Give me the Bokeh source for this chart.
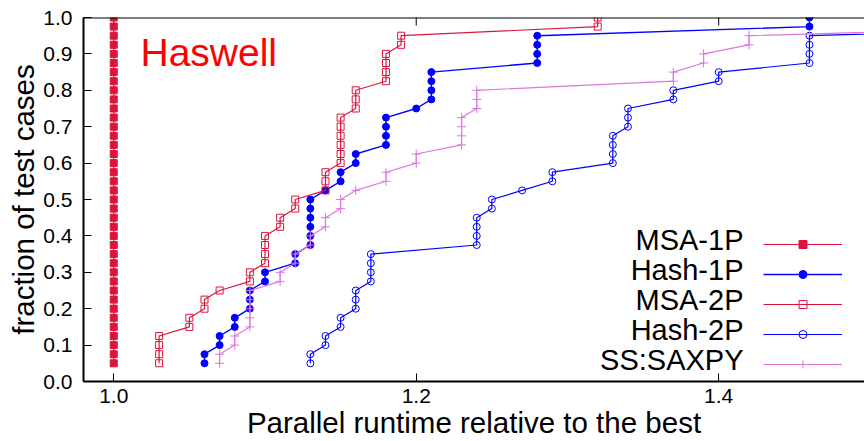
from bokeh.plotting import figure
from bokeh.models import (Range1d, FixedTicker, PrintfTickFormatter,
                          Legend, LegendItem, Label, Span)
from bokeh.core.properties import value
from bokeh.embed import file_html
from bokeh.resources import INLINE
import math

# fraction of test cases (y) shared by every series
fraction = [0.05, 0.075, 0.1, 0.125, 0.15, 0.175, 0.2, 0.225, 0.25,
            0.275, 0.3, 0.325, 0.35, 0.375, 0.4, 0.425, 0.45, 0.475, 0.5,
            0.525, 0.55, 0.575, 0.6, 0.625, 0.65, 0.675, 0.7, 0.725, 0.75,
            0.775, 0.8, 0.825, 0.85, 0.875, 0.9, 0.925, 0.95, 0.975, 1.0]

# parallel runtime relative to the best (x) per series
msa_1p = [1.00, 1.00, 1.00, 1.00, 1.00, 1.00, 1.00, 1.00, 1.00, 1.00,
          1.00, 1.00, 1.00, 1.00, 1.00, 1.00, 1.00, 1.00, 1.00, 1.00,
          1.00, 1.00, 1.00, 1.00, 1.00, 1.00, 1.00, 1.00, 1.00, 1.00,
          1.00, 1.00, 1.00, 1.00, 1.00, 1.00, 1.00, 1.00, 1.00]
hash_1p = [1.06, 1.06, 1.07, 1.07, 1.08, 1.08, 1.09, 1.09, 1.09,
           1.10, 1.10, 1.12, 1.12, 1.13, 1.13, 1.13, 1.13, 1.13, 1.13,
           1.14, 1.15, 1.15, 1.16, 1.16, 1.18, 1.18, 1.18, 1.18, 1.20,
           1.21, 1.21, 1.21, 1.21, 1.28, 1.28, 1.28, 1.28, 1.46, 1.46]
msa_2p = [1.03, 1.03, 1.03, 1.03, 1.05, 1.05, 1.06, 1.06, 1.07,
          1.09, 1.09, 1.10, 1.10, 1.10, 1.10, 1.11, 1.11, 1.12, 1.12,
          1.14, 1.14, 1.14, 1.15, 1.15, 1.15, 1.15, 1.15, 1.15, 1.16,
          1.16, 1.16, 1.18, 1.18, 1.18, 1.18, 1.19, 1.19, 1.32, 1.32]
hash_2p = [1.13, 1.13, 1.14, 1.14, 1.15, 1.15, 1.16, 1.16, 1.16,
           1.17, 1.17, 1.17, 1.17, 1.24, 1.24, 1.24, 1.24, 1.25, 1.25,
           1.27, 1.29, 1.29, 1.33, 1.33, 1.33, 1.33, 1.34, 1.34, 1.34,
           1.37, 1.37, 1.40, 1.40, 1.46, 1.46, 1.46, 1.46, 1.67, 1.80]
ss_saxpy = [1.07, 1.07, 1.08, 1.08, 1.09, 1.09, 1.09, 1.09, 1.09,
            1.11, 1.11, 1.12, 1.12, 1.13, 1.13, 1.14, 1.14, 1.15, 1.15,
            1.16, 1.18, 1.18, 1.20, 1.20, 1.23, 1.23, 1.23, 1.23, 1.24,
            1.24, 1.24, 1.37, 1.37, 1.39, 1.39, 1.42, 1.42, 1.63, 1.75]

series_names = ["MSA-1P", "Hash-1P", "MSA-2P", "Hash-2P", "SS:SAXPY"]
x_ticks = [1.0, 1.2, 1.4]
y_ticks = [0.0, 0.1, 0.2, 0.3, 0.4, 0.5, 0.6, 0.7, 0.8, 0.9, 1.0]
x_start, x_end = 0.98, 1.4964
y_start, y_end = 0.0, 1.0

FONT = "Liberation Sans"
CRIMSON = "#DC143C"
BLUE = "#0000FF"
VIOLET = "#DD77DD"

p = figure(width=864, height=441, output_backend="svg", toolbar_location=None,
           x_range=Range1d(x_start, x_end), y_range=Range1d(y_start, y_end),
           min_border_left=83, min_border_right=0, min_border_top=17,
           min_border_bottom=59)
p.outline_line_color = None
p.xgrid.visible = False
p.ygrid.visible = False
p.background_fill_color = "white"
p.border_fill_color = "white"

for ax, ticks in ((p.xaxis[0], x_ticks), (p.yaxis[0], y_ticks)):
    ax.ticker = FixedTicker(ticks=ticks)
    ax.formatter = PrintfTickFormatter(format="%.1f")
    ax.major_tick_in = 8
    ax.major_tick_out = 0
    ax.minor_tick_line_color = None
    ax.major_tick_line_color = "black"
    ax.major_tick_line_width = 1
    ax.axis_line_color = "black"
    ax.axis_line_width = 2
    ax.major_label_text_font = FONT
    ax.major_label_text_font_size = "21px"
    ax.major_label_text_color = "black"
    ax.axis_label_text_font = FONT
    ax.axis_label_text_font_size = "29.5px"
    ax.axis_label_text_font_style = "normal"
    ax.axis_label_text_color = "black"

p.xaxis[0].major_label_standoff = 7
p.xaxis[0].axis_label = "Parallel runtime relative to the best"
p.xaxis[0].axis_label_standoff = 0
p.yaxis[0].major_label_standoff = 11
p.yaxis[0].axis_label = "fraction of test cases"
p.yaxis[0].axis_label_standoff = 0

# top border with mirrored inward ticks
p.add_layout(Span(location=y_end, dimension="width", line_color="black",
                  line_width=2))
p.scatter(x_ticks, [y_end] * len(x_ticks), marker="dash", size=16,
          angle=math.pi / 2, line_color="black", line_width=1)

specs = [
    (msa_1p, CRIMSON, "square", CRIMSON, 7, 1.2),
    (hash_1p, BLUE, "circle", BLUE, 7, 1.4),
    (msa_2p, CRIMSON, "square", None, 7, 1.2),
    (hash_2p, BLUE, "circle", None, 7, 1.2),
    (ss_saxpy, VIOLET, "cross", None, 9, 1.2),
]

items = []
for name, (xs, color, marker, fill, size, lw) in zip(series_names, specs):
    lr = p.line(xs, fraction, line_color=color, line_width=lw)
    sr = p.scatter(xs, fraction, marker=marker, size=size, line_color=color,
                   fill_color=fill, line_width=1)
    items.append(LegendItem(label=value(""), renderers=[lr, sr]))

legend = Legend(items=items, location=(680, 2), orientation="vertical",
                glyph_width=79, glyph_height=20, label_height=30,
                label_text_font_size="8px", label_width=0,
                spacing=0, padding=0, margin=0, label_standoff=0,
                border_line_color=None, background_fill_alpha=0)
p.add_layout(legend, "center")

row_baselines = [142, 112, 82, 52, 22]
for name, yb in zip(series_names, row_baselines):
    p.add_layout(Label(x=660, y=yb, x_units="screen", y_units="screen",
                       text=name, text_align="right", text_baseline="alphabetic",
                       text_font=FONT, text_font_size="29px", text_color="black"))

p.add_layout(Label(x=57, y=329, x_units="screen", y_units="screen",
                   text="Haswell", text_align="left", text_baseline="alphabetic",
                   text_font=FONT, text_font_size="39px", text_color="#FF0000"))

open("out.html", "w").write(file_html(p, INLINE))
